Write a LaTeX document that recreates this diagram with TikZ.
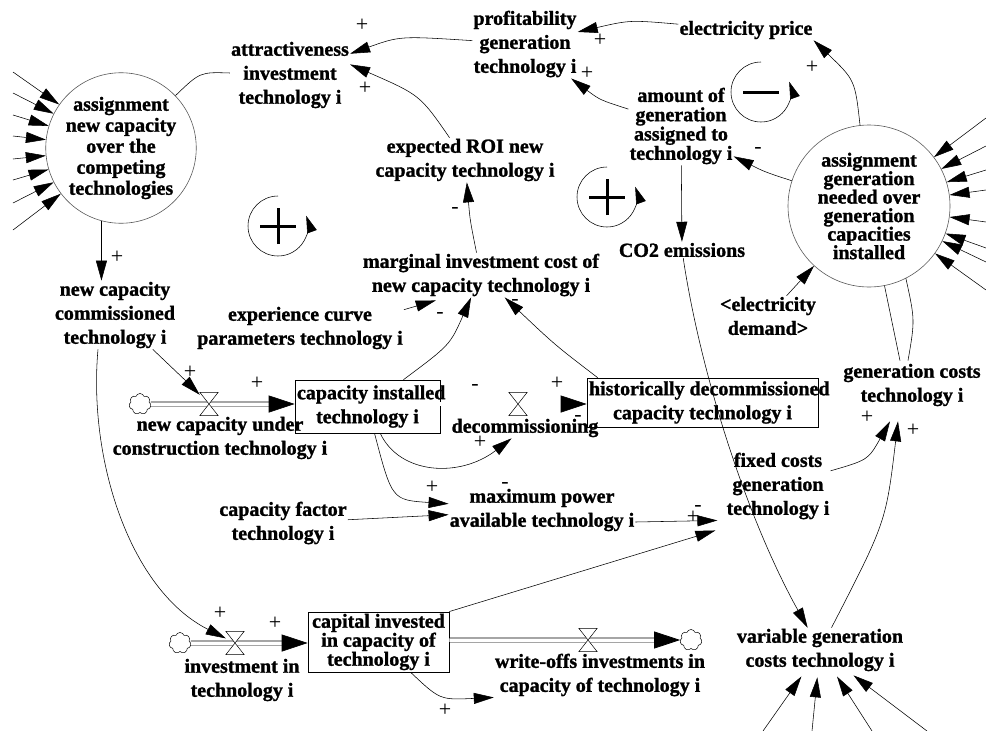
\documentclass[tikz,border=0pt]{standalone}
\usepackage{fontspec}
\setmainfont{Liberation Serif}[BoldFeatures={FakeBold=1.3}]
\usetikzlibrary{arrows.meta,shapes.symbols,calc}

\begin{document}
\begin{tikzpicture}[x=1pt, y=-1pt, node distance=24pt]
\tikzstyle{aux_var}=[align=center, inner sep=1pt, font=\fontsize{20}{24}\selectfont\bfseries]
\tikzstyle{big_var}=[circle, draw=black!65, line width=0.6pt, align=center, inner sep=0pt]
\tikzstyle{stock_var}=[rectangle, draw, line width=0.6pt, align=center, inner sep=2pt, font=\fontsize{20}{24}\selectfont\bfseries]
\tikzstyle{valve}=[rectangle, inner sep=0pt, minimum width=18pt, minimum height=23pt]
\tikzstyle{valve_line}=[fill=white, line width=0.5pt]
\tikzstyle{cloud_src}=[cloud, cloud puffs=7, cloud puff arc=140, aspect=1, draw, line width=0.5pt, minimum width=22pt, minimum height=21pt, inner sep=0pt]
\tikzstyle{link}=[line width=0.55pt, -{Triangle[length=20pt,width=11pt]}]
\tikzstyle{pre_link}=[line width=0.55pt, {Triangle[length=20pt,width=11pt]}-]
\tikzstyle{plain}=[line width=0.55pt]
\tikzstyle{pipe}=[double, double distance=3.5pt, line width=0.7pt, -{Triangle[length=26pt,width=17pt]}]
\tikzstyle{sign}=[inner sep=0pt, font=\fontsize{22}{22}\selectfont]
\tikzstyle{loop_arc}=[line width=0.55pt, -{Triangle[length=17pt,width=10pt]}]
\tikzstyle{loop_mark}=[line width=3pt]
%
\useasboundingbox (0,0) rectangle (986,731);
\begin{scope}

\node [big_var, minimum size=146pt, font=\fontsize{20}{21}\selectfont\bfseries] (ncap) at (121,148) {assignment\\new capacity\\over the\\competing\\technologies};
\node [big_var, minimum size=162pt, font=\fontsize{20}{18.5}\selectfont\bfseries] (gassign) at (869,206) {assignment\\generation\\needed over\\generation\\capacities\\installed};
%
\node [aux_var] (attr) at (290,75) {attractiveness\\investment\\technology i};
\node [aux_var] (prof) at (525,44) {profitability\\generation\\technology i};
\node [aux_var] (price) at (746,30) {electricity price};
\node [aux_var, font=\fontsize{20}{19.3}\selectfont\bfseries] (amount) at (681,126) {amount of\\generation\\assigned to\\technology i};
\node [aux_var] (co2) at (682,250) {CO2 emissions}
	edge [pre_link] (amount);
\node [aux_var] (roi) at (465,160) {expected ROI new\\capacity technology i};
\node [aux_var] (marg) at (481,275) {marginal investment cost of\\new capacity technology i};
\node [aux_var] (expc) at (300,328) {experience curve\\parameters technology i};
\node [aux_var] (ncc) at (115,315) {new capacity\\commissioned\\technology i};
\node [aux_var] (demand) at (768,316) {<electricity\\demand>};
\node [aux_var] (gcost) at (912,385) {generation costs\\technology i};
\node [aux_var] (fcost) at (778,486) {fixed costs\\generation\\technology i};
\node [aux_var] (maxpow) at (542,510) {maximum power\\available technology i};
\node [aux_var] (capfac) at (283,523) {capacity factor\\technology i}
	edge [link] (maxpow);
\node [aux_var] (var) at (820,650) {variable generation\\costs technology i};
%
\node [stock_var, minimum width=145pt, minimum height=53pt] (cinst) at (367.5,406.5) {\makebox[141pt][l]{capacity installed}\\technology i};
\node [stock_var, minimum width=231pt, minimum height=49pt] (hist) at (702.5,402.5) {\makebox[227pt][l]{historically decommissioned}\\capacity technology i};
\node [stock_var, minimum width=141pt, minimum height=60pt, font=\fontsize{20}{19}\selectfont\bfseries] (capinv) at (378.5,642) {\makebox[137pt][c]{capital invested}\\in capacity of\\technology i};
%
\node [cloud_src] (cl1) at (140,404) {};
\node [cloud_src] (cl2) at (180,643) {};
\node [cloud_src] (cl3) at (691,640) {};
\node [valve] (v1) at (209,404) {};
\node [valve] (v2) at (518,404) {};
\node [valve] (v3) at (235,643) {};
\node [valve] (v4) at (588,640) {};
\node [aux_var] (ncu) at (220,438) {new capacity under\\construction technology i};
\node [aux_var, below of=v2, xshift=7pt] (decom) {decommissioning};
\node [aux_var] (invest) at (242,680) {investment in\\technology i};
\node [aux_var] (wo) at (600,675) {write-offs investments in\\capacity of technology i};
%
\draw [pipe] (cl1) -- (cl1 -| cinst.west);
\draw [pipe] (v2 -| cinst.east) -- (v2 -| hist.west);
\draw [pipe] (cl2) -- (cl2 -| capinv.west);
\draw [pipe] (v4 -| capinv.east) -- (cl3);
\foreach \v in {v1,v2,v3,v4}
	\draw [valve_line] (\v.north west) -- (\v.north east) -- (\v.south west) -- (\v.south east) -- cycle;
%
\draw [plain] (attr) .. controls (200,72) .. (ncap);
\draw [link] (prof) .. controls (400,36) .. (attr);
\draw [link] (price) .. controls (630,20) .. (prof);
\draw [link] (amount) .. controls (600,100) .. (prof);
\draw [link] (gassign) .. controls (765,172) .. (amount.-30);
\draw [link] (gassign) .. controls (855,80) .. (price.south east);
\draw [link] (roi) .. controls (420,95) .. (attr.10);
\draw [link] (marg) .. controls (470,220) .. (roi);
\draw [link] (expc.10) -- ($(marg.south west)+(74,3)$);
\draw [link] (cinst) .. controls (450,345) .. (marg);
\draw [link] ([xshift=11pt]hist.north west) .. controls (555,345) .. (marg);
\draw [link] (ncap.-105) -- (ncap.-105 |- ncc.north);
\draw [link] (ncc) .. controls (170,365) .. (v1);
\draw [link] ([xshift=-17pt]ncc.south) .. controls (88,460) and (130,590) .. (v3);
\draw [link] (cinst) .. controls (400,475) and (460,478) .. (decom);
\draw [link] (cinst) .. controls (392,500) .. (maxpow);
\draw [link] ([yshift=-12pt]maxpow.east) -- ($(fcost.south west)+(-8,0)$);
\draw [link] (capinv.north east) -- ($(fcost.south west)+(-10,10)$);
\draw [link] (capinv) .. controls (440,700) .. (wo.south west);
\draw [link] (fcost) .. controls (868,460) .. ($(gcost.south)+(-22,14)$);
\draw [link] (var) .. controls (886,522) .. ($(gcost.south)+(-14,14)$);
\draw [link] (co2) .. controls (700,370) and (745,515) .. (var);
\draw [link] (demand) -- (gassign);
\draw [plain] (gassign.-79) -- ($(gcost.north)+(-12,-2)$);
\draw [plain] (gassign.-63) .. controls (915,320) .. ($(gcost.north)+(-4,-2)$);
%
\foreach \y [count=\i] in {72,93,115,136,159,180,203,230}
	\draw [link] (13,\y) coordinate (lin\i) -- (ncap);
\foreach \y [count=\i] in {118,146,170,190,222,248,262,290}
	\draw [link] (986,\y) coordinate (rin\i) -- (gassign);
\foreach \x [count=\i] in {763,812,872,927}
	\draw [link, shorten >=5pt] (\x,731) coordinate (bin\i) -- (var);
%
\coordinate (lp1) at (278,226);
\coordinate (lp2) at (607,197);
\coordinate (ln1) at (761,92);
\foreach \c in {lp1,lp2,ln1}
	\draw [loop_arc] ($(\c)+(0pt,30pt)$) arc [start angle=90, end angle=380, radius=30pt];
\draw [loop_mark] ($(lp1)+(-18pt,0pt)$) -- ($(lp1)+(18pt,0pt)$) ($(lp1)+(0pt,-18pt)$) -- ($(lp1)+(0pt,18pt)$);
\draw [loop_mark] ($(lp2)+(-18pt,0pt)$) -- ($(lp2)+(18pt,0pt)$) ($(lp2)+(0pt,-18pt)$) -- ($(lp2)+(0pt,18pt)$);
\draw [loop_mark] ($(ln1)+(-18pt,0pt)$) -- ($(ln1)+(18pt,0pt)$);
%
\foreach \x/\y/\s [count=\i] in {362/25/+, 600/40/+, 587/73/+, 365/88/+, 455/210/-, 758/150/-, 812/67/+, 117/257/+, 190/372/+, 257/383/+, 440/315/-, 515/302/-, 475/387/-, 557/383/+, 578/418/-, 480/442/+, 432/487/+, 505/485/-, 693/517/+, 698/508/-, 867/417/+, 913/430/+, 220/613/+, 275/623/+, 445/710/+}
	\node [sign] (sg\i) at (\x,\y) {\s};
\end{scope}
%
\end{tikzpicture}
\end{document}
